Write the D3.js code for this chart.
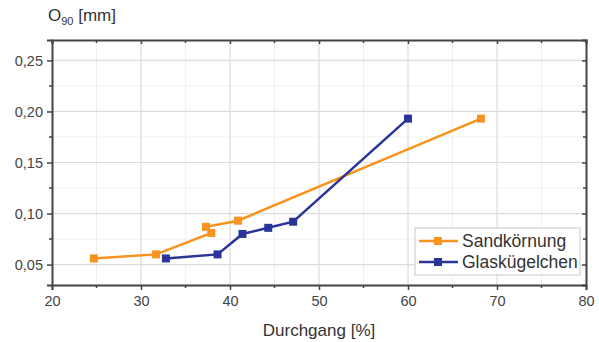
<!DOCTYPE html>
<html>
<head>
    <script src="https://cdn.jsdelivr.net/npm/d3@7"></script>
    <style>
        body { margin: 0; background: #fff; }
    </style>
</head>
<body>
<div id="chart"></div>

<script>
    // Sandkörnung
    var sandX = [24.7, 31.7, 37.9, 37.3, 40.9, 68.2];
    var sandY = [0.056, 0.060, 0.081, 0.087, 0.093, 0.193];
    // Glaskügelchen
    var glasX = [32.8, 38.6, 41.4, 44.3, 47.1, 60.0];
    var glasY = [0.056, 0.060, 0.080, 0.086, 0.092, 0.193];

    var seriesNames = ['Sandkörnung', 'Glaskügelchen'];
    var colors = ['#F7931E', '#2A3499'];

    var xTicks = [20, 30, 40, 50, 60, 70, 80];
    var yTicks = [0.05, 0.10, 0.15, 0.20, 0.25];

    var width = 599, height = 342;
    var margin = { top: 40, right: 13, bottom: 57, left: 52 };
    var innerW = width - margin.left - margin.right;
    var innerH = height - margin.top - margin.bottom;

    var svg = d3.select('#chart').append('svg')
        .attr('width', width)
        .attr('height', height)
        .style('font-family', 'Liberation Sans, Arial, sans-serif');

    var g = svg.append('g')
        .attr('transform', 'translate(' + margin.left + ',' + margin.top + ')');

    var x = d3.scaleLinear().domain([20, 80]).range([0, innerW]);
    var y = d3.scaleLinear().domain([0.03, 0.27]).range([innerH, 0]);

    var fmt = function(d) { return d3.format('.2f')(d).replace('.', ','); };

    // minor grid
    var xMinor = d3.range(25, 80, 10);
    var yMinor = d3.range(0.075, 0.27, 0.05);

    g.selectAll('line.xminor').data(xMinor).enter().append('line')
        .attr('x1', function(d) { return x(d); }).attr('x2', function(d) { return x(d); })
        .attr('y1', 0).attr('y2', innerH)
        .attr('stroke', '#f0f0f0').attr('stroke-width', 1);
    g.selectAll('line.yminor').data(yMinor).enter().append('line')
        .attr('y1', function(d) { return y(d); }).attr('y2', function(d) { return y(d); })
        .attr('x1', 0).attr('x2', innerW)
        .attr('stroke', '#f0f0f0').attr('stroke-width', 1);

    // major grid
    g.selectAll('line.xgrid').data(xTicks.slice(1, -1)).enter().append('line')
        .attr('x1', function(d) { return x(d); }).attr('x2', function(d) { return x(d); })
        .attr('y1', 0).attr('y2', innerH)
        .attr('stroke', '#dcdcdc').attr('stroke-width', 1.2);
    g.selectAll('line.ygrid').data(yTicks).enter().append('line')
        .attr('y1', function(d) { return y(d); }).attr('y2', function(d) { return y(d); })
        .attr('x1', 0).attr('x2', innerW)
        .attr('stroke', '#dcdcdc').attr('stroke-width', 1.2);

    // axes
    var xAxis = g.append('g')
        .attr('transform', 'translate(0,' + innerH + ')')
        .call(d3.axisBottom(x).tickValues(xTicks).tickSize(5).tickPadding(6).tickFormat(d3.format('d')));
    var yAxis = g.append('g')
        .call(d3.axisLeft(y).tickValues(yTicks).tickSize(5).tickPadding(4).tickFormat(fmt));
    var topAxis = g.append('g')
        .call(d3.axisBottom(x).tickValues(xTicks).tickSize(4).tickFormat(''));
    var rightAxis = g.append('g')
        .attr('transform', 'translate(' + innerW + ',0)')
        .call(d3.axisLeft(y).tickValues(yTicks).tickSize(4).tickFormat(''));

    [xAxis, yAxis, topAxis, rightAxis].forEach(function(a) {
        a.select('.domain').attr('stroke', '#444').attr('stroke-width', 2);
        a.selectAll('.tick line').attr('stroke', '#444').attr('stroke-width', 1.5);
        a.selectAll('.tick text').attr('fill', '#444').attr('font-size', 14.5);
    });

    // minor ticks
    g.selectAll('line.xmt').data(xMinor).enter().append('line')
        .attr('x1', function(d) { return x(d); }).attr('x2', function(d) { return x(d); })
        .attr('y1', innerH).attr('y2', innerH + 3)
        .attr('stroke', '#444').attr('stroke-width', 1.5);
    g.selectAll('line.xmtt').data(xMinor).enter().append('line')
        .attr('x1', function(d) { return x(d); }).attr('x2', function(d) { return x(d); })
        .attr('y1', 0).attr('y2', 3)
        .attr('stroke', '#444').attr('stroke-width', 1.5);
    g.selectAll('line.ymt').data(yMinor).enter().append('line')
        .attr('y1', function(d) { return y(d); }).attr('y2', function(d) { return y(d); })
        .attr('x1', -3).attr('x2', 0)
        .attr('stroke', '#444').attr('stroke-width', 1.5);
    g.selectAll('line.ymtr').data(yMinor).enter().append('line')
        .attr('y1', function(d) { return y(d); }).attr('y2', function(d) { return y(d); })
        .attr('x1', innerW - 3).attr('x2', innerW)
        .attr('stroke', '#444').attr('stroke-width', 1.5);

    // series
    var series = [
        { name: seriesNames[0], color: colors[0], pts: d3.zip(sandX, sandY) },
        { name: seriesNames[1], color: colors[1], pts: d3.zip(glasX, glasY) }
    ];

    var line = d3.line()
        .x(function(d) { return x(d[0]); })
        .y(function(d) { return y(d[1]); });

    series.forEach(function(s) {
        g.append('path')
            .attr('d', line(s.pts))
            .attr('fill', 'none')
            .attr('stroke', s.color)
            .attr('stroke-width', 2.5);
        g.selectAll(null).data(s.pts).enter().append('rect')
            .attr('x', function(d) { return x(d[0]) - 4; })
            .attr('y', function(d) { return y(d[1]) - 4; })
            .attr('width', 8).attr('height', 8)
            .attr('fill', s.color);
    });

    // axis titles
    var yTitle = svg.append('text')
        .attr('x', 48).attr('y', 21)
        .attr('fill', '#333').attr('font-size', 17);
    yTitle.append('tspan').text('O');
    yTitle.append('tspan').attr('font-size', 11).attr('dy', 4).text('90');
    yTitle.append('tspan').attr('dy', -4).text(' [mm]');

    svg.append('text')
        .attr('x', margin.left + x(50)).attr('y', 336)
        .attr('text-anchor', 'middle')
        .attr('fill', '#333').attr('font-size', 17)
        .text('Durchgang [%]');

    // legend
    var legend = svg.append('g').attr('transform', 'translate(415,228)');
    legend.append('rect')
        .attr('width', 165).attr('height', 47)
        .attr('fill', '#fff').attr('stroke', '#c8c8c8').attr('stroke-width', 1);

    var entries = legend.selectAll('g.legend-entry')
        .data(series).enter().append('g')
        .attr('class', 'legend-entry')
        .attr('transform', function(d, i) { return 'translate(0,' + (13 + i * 21) + ')'; });
    entries.append('line')
        .attr('x1', 4).attr('x2', 43)
        .attr('stroke', function(d) { return d.color; }).attr('stroke-width', 2.5);
    entries.append('rect')
        .attr('x', 19).attr('y', -4).attr('width', 8).attr('height', 8)
        .attr('fill', function(d) { return d.color; });
    entries.append('text')
        .attr('x', 47).attr('dy', '0.35em')
        .attr('font-size', 17.5).attr('fill', '#333')
        .text(function(d) { return d.name; });
</script>
</body>
</html>
